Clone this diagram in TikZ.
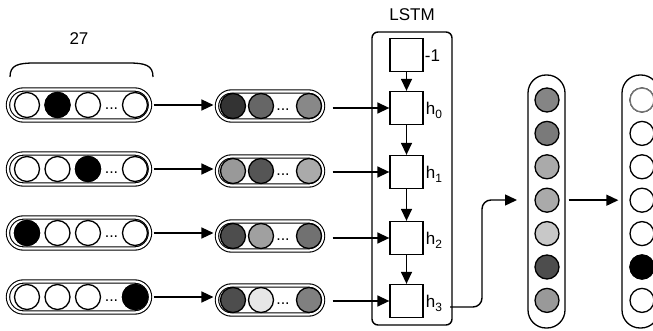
\documentclass[tikz,border=0pt]{standalone}
\usepackage{fontspec}
\setmainfont{Liberation Sans}
\usetikzlibrary{arrows.meta}
\newcommand\lowsub[1]{\raisebox{-0.45ex}{\fontsize{12}{12}\selectfont #1}}
\begin{document}
\begin{tikzpicture}[x=1pt,y=-1pt,
  font=\fontsize{17}{19}\selectfont,
  unit/.style={circle, draw, line width=1.3pt, minimum size=25pt, inner sep=0pt},
  smallunit/.style={unit, minimum size=24pt},
  onehot/.style={draw, line width=1.1pt, double, double distance=2.2pt,
    rounded corners=15.5pt, minimum width=142pt, minimum height=31pt, inner sep=0pt},
  embed/.style={onehot, minimum width=106pt, minimum height=29pt, rounded corners=14.5pt},
  column/.style={draw, line width=1.3pt, rounded corners=18pt,
    minimum width=37pt, minimum height=253pt, inner sep=0pt},
  cell/.style={draw, line width=1.3pt, minimum size=33pt, inner sep=0pt},
  flow/.style={line width=1.4pt, -{Triangle[length=12pt,width=11pt]}},
  dots/.style={font=\fontsize{16}{16}\selectfont, inner sep=0pt}
]
\useasboundingbox (0,0) rectangle (653,331);
\clip (0,0) rectangle (653,331);

% vocabulary size brace
\draw[line width=1.3pt] (10,77) .. controls (10,65) and (18,63) .. (35,63) -- (128,63)
  .. controls (145,63) and (153,65) .. (153,77);
\node (vsize) at (79,39) {27};

% LSTM container and its cells
\node at (412,15) (lstmlabel) {LSTM};
\node[draw, line width=1.4pt, rounded corners=6pt, minimum width=80pt,
  minimum height=293pt, inner sep=0pt] (lstm) at (412,178.5) {};
\node[cell] (hm) at (406.5,55) {};
\node[cell] (h0) at (406.5,108) {};
\node[cell] (h1) at (406.5,172) {};
\node[cell] (h2) at (406.5,238) {};
\node[cell] (h3) at (406.5,301) {};
\node[anchor=west, inner sep=1pt] (lm) at ([yshift=-1pt]hm.east) {-1};
\node[anchor=west, inner sep=2pt] (l0) at ([yshift=-2pt]h0.east) {h\lowsub{0}};
\node[anchor=west, inner sep=2pt] (l1) at ([yshift=-2pt]h1.east) {h\lowsub{1}};
\node[anchor=west, inner sep=2pt] (l2) at ([yshift=-2pt]h2.east) {h\lowsub{2}};
\node[anchor=west, inner sep=2pt] (l3) at ([yshift=-2pt]h3.east) {h\lowsub{3}};
\draw[flow] (hm) -- (h0);
\draw[flow] (h0) -- (h1);
\draw[flow] (h1) -- (h2);
\draw[flow] (h2) -- (h3);

% one-hot inputs
\foreach \r/\y/\b in {1/105/2, 2/169/3, 3/233/1, 4/297/4} {
  \node[onehot] (in\r) at (79,\y) {};
  \node[unit, fill=white] (in\r a) at (27,\y) {};
  \node[unit, fill=white] (in\r b) at (57.5,\y) {};
  \node[unit, fill=white] (in\r c) at (88,\y) {};
  \node[dots] (in\r d) at (111.5,\y+4) {...};
  \node[unit, fill=white] (in\r e) at (135,\y) {};
}
\node[unit, fill=black] at (in1b) {};
\node[unit, fill=black] at (in2c) {};
\node[unit, fill=black] at (in3a) {};
\node[unit, fill=black] at (in4e) {};

% embeddings
\foreach \r/\y/\ca/\cb/\cc in {1/106/333333/666666/888888,
                                2/171/999999/555555/AAAAAA,
                                3/236/4D4D4D/A0A0A0/717171,
                                4/300/4D4D4D/E6E6E6/808080} {
  \definecolor{ea}{HTML}{\ca}\definecolor{eb}{HTML}{\cb}\definecolor{ec}{HTML}{\cc}
  \node[embed] (em\r) at (270,\y) {};
  \node[unit, fill=ea] (em\r a) at (233,\y) {};
  \node[unit, fill=eb] (em\r b) at (261,\y) {};
  \node[dots] (em\r d) at (283,\y+4) {...};
  \node[unit, fill=ec] (em\r e) at (309,\y) {};
}

% input -> embedding -> LSTM cell
\foreach \r/\h in {1/h0, 2/h1, 3/h2, 4/h3} {
  \draw[flow, shorten <=3pt, shorten >=3pt] (in\r.east) -- (in\r.east -| em\r.west);
  \draw[flow, shorten <=9pt] (em\r.east |- \h.west) -- (\h.west);
}

% hidden layer and output layer
\node[column] (hid) at (546.5,201.5) {};
\node[column] (out) at (640.5,201.5) {};
\foreach \i/\c in {1/858585, 2/7A7A7A, 3/AAAAAA, 4/AAAAAA, 5/C8C8C8, 6/4D4D4D, 7/999999} {
  \definecolor{hc}{HTML}{\c}
  \node[smallunit, fill=hc] (hid\i) at (547,{100+33.4*(\i-1)}) {};
  \node[smallunit, fill=white] (out\i) at (642,{100+33.4*(\i-1)}) {};
}
\node[smallunit, fill=white, draw=black!55] at (out1) {};
\node[smallunit, fill=black] at (out6) {};

% last hidden state -> dense layers
\coordinate (h3tail) at (450,307);
\coordinate (hidin) at (517,200);
\draw[flow, rounded corners=9pt] (h3tail) -- (482,307) -- (482,200) -- (hidin);
\draw[flow, shorten <=3pt, shorten >=3pt] (hid.east |- hid4) -- (hid4 -| out.west);
\end{tikzpicture}
\end{document}
